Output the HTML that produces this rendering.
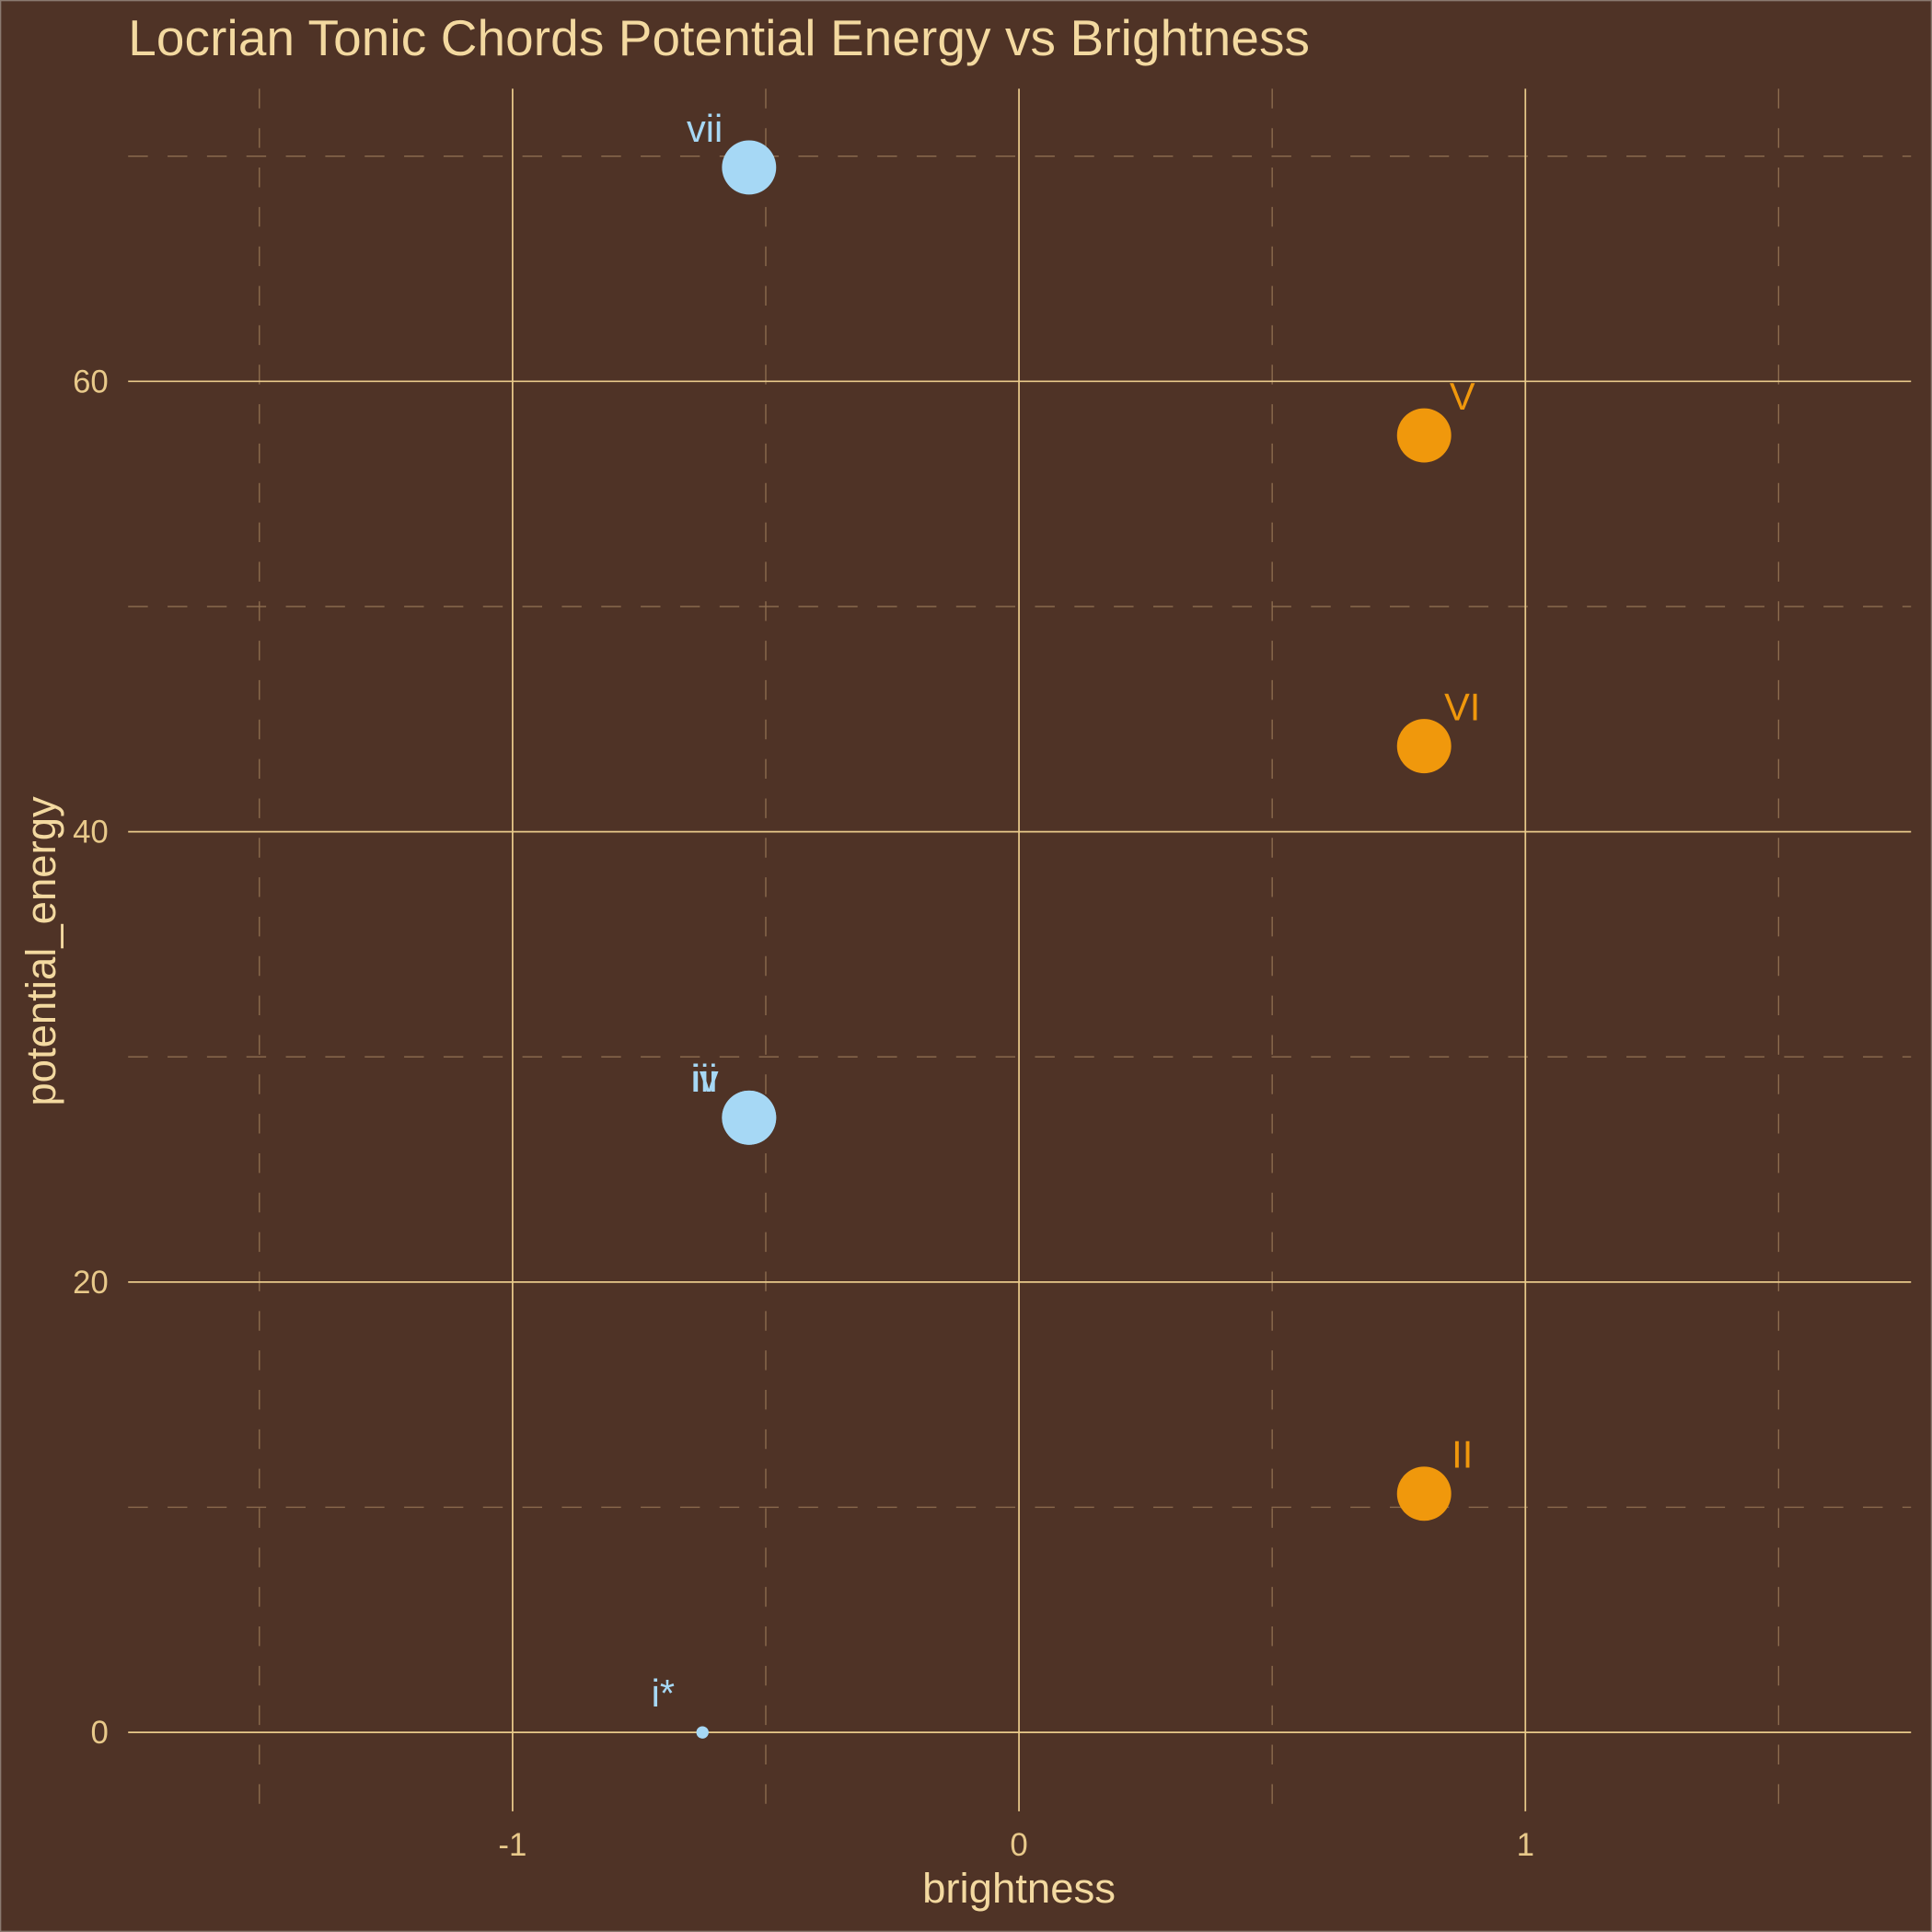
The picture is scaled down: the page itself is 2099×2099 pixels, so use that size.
<!DOCTYPE html>
<html><head><meta charset="utf-8"><style>
html,body{margin:0;padding:0;background:#4F3326;}
svg{display:block;font-family:"Liberation Sans",Arial,sans-serif;}
</style></head><body>
<svg id="chart" width="2099" height="2099" viewBox="0 0 1568 1568" xmlns="http://www.w3.org/2000/svg">
<rect x="0.5" y="0.5" width="1567" height="1567" fill="#4F3326" stroke="#8a7a70" stroke-width="1"/>
<text x="104" y="45" font-size="41" fill="#F3D9A0" textLength="959">Locrian Tonic Chords Potential Energy vs Brightness</text>
<g id="grid"></g>
<g id="points"></g>
<text x="827" y="1544" font-size="34" fill="#F3D9A0" text-anchor="middle">brightness</text>
<text transform="translate(45,772) rotate(-90)" font-size="34" fill="#F3D9A0" text-anchor="middle">potential_energy</text>
</svg>
<script>
const labels = ["vii","V","VI","iii","iv","II","i*"];
const brightness = [-0.533,0.8,0.8,-0.533,-0.533,0.8,-0.625];
const potentialEnergy = [69.5,57.6,43.8,27.3,27.3,10.6,0];
const groups = ["dark","bright","bright","dark","dark","bright","tonic"];
const xTicks = [-1,0,1];
const yTicks = [0,20,40,60];
const xMinor = [-1.5,-0.5,0.5,1.5];
const yMinor = [10,30,50,70];

const NS="http://www.w3.org/2000/svg";
const L=104,R=1551,T=72,B=1470;
const xs=v=>827+v*411;
const ys=v=>1406-v*18.275;
const grid=document.getElementById('grid'), pts=document.getElementById('points');
function mk(tag,attrs,parent){const e=document.createElementNS(NS,tag);for(const k in attrs)e.setAttribute(k,attrs[k]);parent.appendChild(e);return e;}
xMinor.forEach(v=>{const e=mk('line',{x1:xs(v),x2:xs(v),y1:T,y2:B,stroke:'#8E6E50','stroke-width':1,'stroke-dasharray':'16 16'},grid);

});
yMinor.forEach(v=>{const e=mk('line',{x1:L,x2:R,y1:ys(v),y2:ys(v),stroke:'#8E6E50','stroke-width':1,'stroke-dasharray':'16 16'},grid);

});
xTicks.forEach(v=>{const e=mk('line',{x1:xs(v),x2:xs(v),y1:T,y2:B,stroke:'#E8C98A','stroke-width':1.3},grid);


const t=mk('text',{x:xs(v),y:1506,'font-size':26,fill:'#E8C98A','text-anchor':'middle'},grid);t.textContent=v;

});
yTicks.forEach(v=>{const e=mk('line',{x1:L,x2:R,y1:ys(v),y2:ys(v),stroke:'#E8C98A','stroke-width':1.3},grid);


const t=mk('text',{x:88,y:ys(v)+9,'font-size':26,fill:'#E8C98A','text-anchor':'end'},grid);t.textContent=v;

});
labels.forEach((lab,i)=>{
 const g=groups[i];const col=g==='bright'?'#F0980C':'#A6D8F5';const r=g==='tonic'?5:22;
 const cx=xs(brightness[i]),cy=ys(potentialEnergy[i]);
 const c=mk('circle',{cx:cx,cy:cy,r:r,fill:col},pts);
 
 
 const dx=g==='bright'?31:(g==='tonic'?-32:-36);
 const t=mk('text',{x:cx+dx,y:cy-21,'font-size':31,fill:col,'text-anchor':'middle'},pts);t.textContent=lab;
 
 
});
</script>
</body></html>
